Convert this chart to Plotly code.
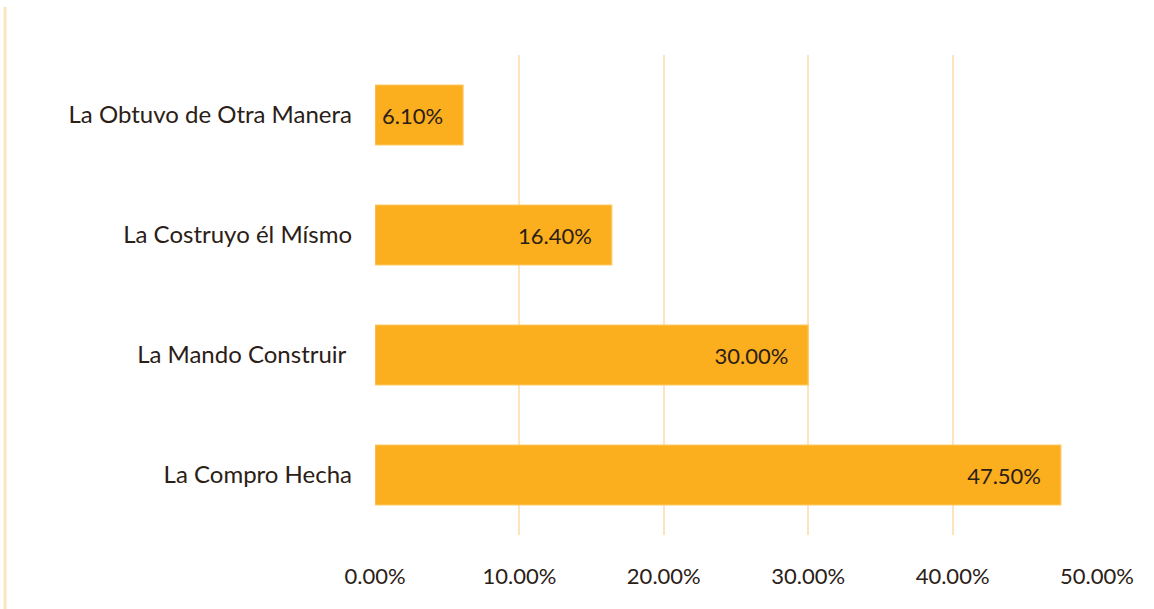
import plotly.graph_objects as go

# Survey responses: how the dwelling was obtained
categories = [
    "La Compro Hecha",
    "La Mando Construir ",
    "La Costruyo él Mísmo",
    "La Obtuvo de Otra Manera",
]
shares = [0.475, 0.300, 0.164, 0.061]
tick_values = [0.0, 0.1, 0.2, 0.3, 0.4, 0.5]
tick_labels = ["0.00%", "10.00%", "20.00%", "30.00%", "40.00%", "50.00%"]

FONT = "Lato, 'Open Sans', sans-serif"
TEXT = "#2b2016"
GRID = "#fde3bf"
PAD = "\u00a0\u00a0\u00a0"  # keeps the value labels off the bar ends

fig = go.Figure(
    go.Bar(
        x=shares,
        y=categories,
        orientation="h",
        marker=dict(color="#fbae1e", line=dict(color="#fdc964", width=1.2)),
        text=[f"{v * 100:.2f}%{PAD}" for v in shares],
        textposition="inside",
        insidetextanchor="end",
        textfont=dict(family=FONT, size=22, color=TEXT),
        width=0.5,
        hoverinfo="skip",
    )
)

fig.update_layout(
    width=1154,
    height=609,
    margin=dict(l=375, r=57, t=55, b=74),
    paper_bgcolor="white",
    plot_bgcolor="white",
    showlegend=False,
    font=dict(family=FONT, size=22, color=TEXT),
    uniformtext=dict(minsize=22, mode="show"),
)

fig.update_xaxes(
    range=[0, 0.5],
    tickvals=tick_values,
    ticktext=tick_labels,
    showgrid=True,
    gridcolor=GRID,
    gridwidth=2,
    zeroline=False,
    showline=False,
    ticks="",
    ticklabelstandoff=26,
    tickfont=dict(family=FONT, size=22, color=TEXT),
    fixedrange=True,
)

fig.update_yaxes(
    range=[-0.5, 3.5],
    showgrid=False,
    zeroline=False,
    showline=False,
    ticks="",
    ticklabelstandoff=22,
    tickfont=dict(family=FONT, size=24, color=TEXT),
    fixedrange=True,
)

# Frame line running down the left edge of the chart area
fig.add_shape(
    type="line",
    xref="paper",
    yref="paper",
    x0=(5 - 375) / 722,
    x1=(5 - 375) / 722,
    y0=(535 - 7) / 480,
    y1=-74 / 480,
    line=dict(color=GRID, width=3),
)

fig.write_html("out.html")
